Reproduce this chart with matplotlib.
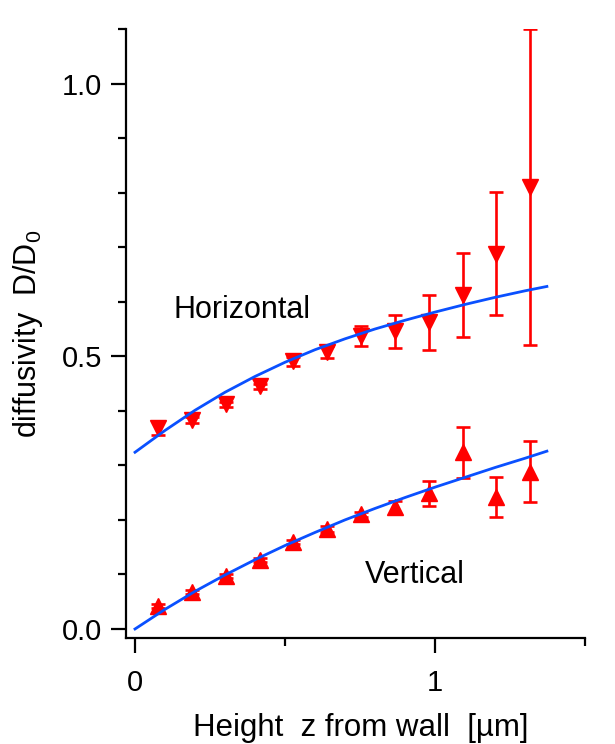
import matplotlib.pyplot as plt
from matplotlib.ticker import MultipleLocator

plt.rcParams['font.family'] = ['Liberation Sans', 'DejaVu Sans']
plt.rcParams['mathtext.default'] = 'regular'

# measured points (height z in um)
z = [0.077, 0.19, 0.303, 0.416, 0.527, 0.64, 0.753, 0.866, 0.979, 1.092, 1.205, 1.317]

horiz = [0.368, 0.383, 0.412, 0.445, 0.491, 0.507, 0.537, 0.546, 0.562, 0.612, 0.688, 0.81]
horiz_err = [0.013, 0.006, 0.005, 0.005, 0.008, 0.011, 0.019, 0.03, 0.05, 0.077, 0.113, 0.29]

vert = [0.042, 0.068, 0.097, 0.126, 0.159, 0.183, 0.21, 0.223, 0.249, 0.324, 0.242, 0.288]
vert_err = [0.004, 0.004, 0.004, 0.004, 0.004, 0.005, 0.005, 0.012, 0.023, 0.047, 0.037, 0.056]

# fitted curves
fit_z = [0.0, 0.1, 0.2, 0.3, 0.4, 0.5, 0.6, 0.7, 0.8, 0.9, 1.0, 1.1, 1.2, 1.3, 1.373]
fit_horiz = [0.324, 0.364, 0.401, 0.434, 0.463, 0.489, 0.512, 0.532, 0.550, 0.566,
             0.581, 0.595, 0.608, 0.620, 0.628]
fit_vert = [0.0, 0.036, 0.069, 0.099, 0.127, 0.153, 0.177, 0.200, 0.221, 0.241,
            0.260, 0.278, 0.296, 0.313, 0.326]

fig = plt.figure(figsize=(6.15, 7.44), dpi=100)
ax = fig.add_axes([0.2049, 0.1425, 0.7463, 0.8185])

red = '#ff0000'
blue = '#0a50ff'

ax.errorbar(z, horiz, yerr=horiz_err, fmt='v', color=red, ms=12, elinewidth=1.9,
            capsize=4.7, capthick=1.9, zorder=2)
ax.errorbar(z, vert, yerr=vert_err, fmt='^', color=red, ms=12, elinewidth=1.9,
            capsize=4.7, capthick=1.9, zorder=2)
ax.plot(fit_z, fit_horiz, color=blue, lw=2.0, zorder=3)
ax.plot(fit_z, fit_vert, color=blue, lw=2.0, zorder=3)

ax.text(0.127, 0.571, 'Horizontal', fontsize=22)
ax.text(0.767, 0.084, 'Vertical', fontsize=22)

ax.set_xlim(-0.03, 1.5)
ax.set_ylim(-0.0165, 1.1)
for s in ['top', 'right']:
    ax.spines[s].set_visible(False)
for s in ['left', 'bottom']:
    ax.spines[s].set_linewidth(1.6)

ax.xaxis.set_major_locator(MultipleLocator(1))
ax.xaxis.set_minor_locator(MultipleLocator(0.5))
ax.yaxis.set_major_locator(MultipleLocator(0.5))
ax.yaxis.set_minor_locator(MultipleLocator(0.1))
ax.set_yticks([0.0, 0.5, 1.0])
ax.set_yticklabels(['0.0', '0.5', '1.0'])
ax.set_xticks([0, 1])
ax.set_xticklabels(['0', '1'])
ax.tick_params(which='major', length=11, width=1.6, labelsize=21)
ax.tick_params(which='minor', length=5.8, width=1.6)
ax.tick_params(axis='x', which='major', pad=11)
ax.tick_params(axis='y', which='major', pad=6)

ax.set_xlabel('Height  z from wall  [µm]', fontsize=22.5, labelpad=12, x=0.512)
ax.set_ylabel('diffusivity  D/D$_0$', fontsize=22, labelpad=12)

plt.savefig('out.png', dpi=100)
